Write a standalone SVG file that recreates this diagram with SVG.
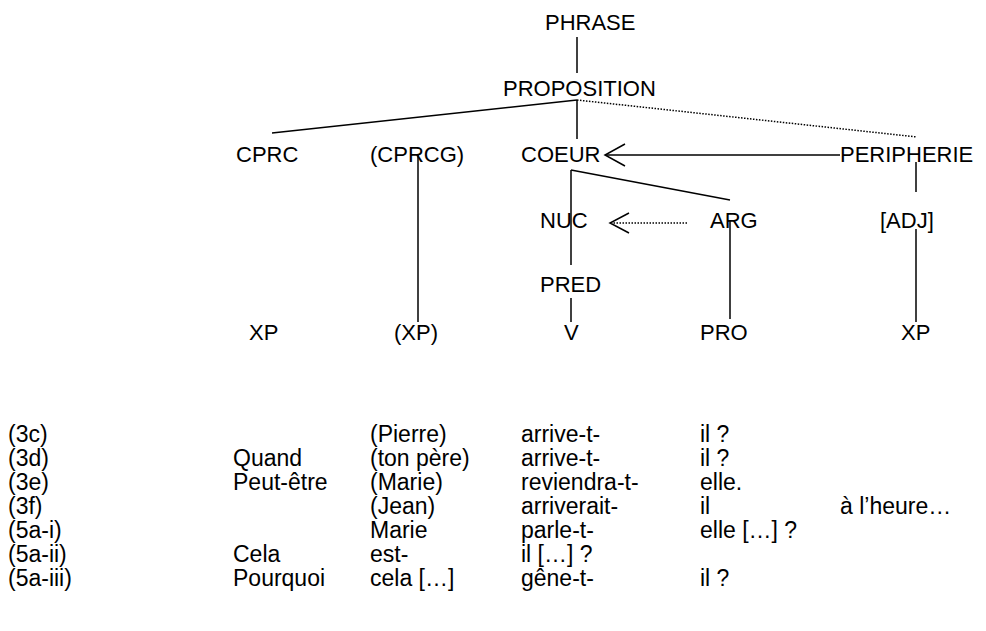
<svg xmlns="http://www.w3.org/2000/svg" width="986" height="631" viewBox="0 0 986 631">
<style>
text{font-family:"Liberation Sans",Arial,sans-serif;font-size:22px;fill:#000}
.ex text{font-size:23px}
.ln{stroke:#000;stroke-width:1.5;fill:none}
.dt{stroke:#000;stroke-width:1.5;fill:none;stroke-dasharray:1.5 1.5}
</style>
<rect width="986" height="631" fill="#fff"/>
<g id="connectors">
<line class="ln" x1="577" y1="37" x2="577" y2="73"/>
<line class="ln" x1="577" y1="100" x2="272" y2="133"/>
<line class="ln" x1="577" y1="100" x2="577" y2="139"/>
<line class="dt" x1="577" y1="100" x2="917" y2="137"/>
<line class="ln" x1="418" y1="155" x2="418" y2="322"/>
<line class="ln" x1="840" y1="155" x2="606" y2="155"/>
<polyline class="ln" points="625,144 605,155 625,166"/>
<line class="ln" x1="571" y1="170" x2="730" y2="200"/>
<line class="ln" x1="571" y1="170" x2="571" y2="265"/>
<line class="ln" x1="571" y1="298" x2="571" y2="322"/>
<line class="ln" x1="730" y1="221" x2="730" y2="319"/>
<line class="ln" x1="916" y1="162" x2="916" y2="192"/>
<line class="ln" x1="916" y1="229" x2="916" y2="322"/>
<line class="dt" x1="687" y1="223" x2="612" y2="223"/>
<polyline class="ln" points="629,213 610,223 629,233"/>
</g>
<g id="phrase"><text x="545" y="30">PHRASE</text></g>
<g id="proposition"><text x="503" y="96">PROPOSITION</text></g>
<g id="cprc"><text x="236" y="162">CPRC</text></g>
<g id="cprcg"><text x="370" y="162">(CPRCG)</text></g>
<g id="coeur"><text x="521" y="162">COEUR</text></g>
<g id="peripherie"><text x="840" y="162">PERIPHERIE</text></g>
<g id="nuc"><text x="540" y="228">NUC</text></g>
<g id="arg"><text x="710" y="228">ARG</text></g>
<g id="adj"><text x="880" y="228">[ADJ]</text></g>
<g id="pred"><text x="540" y="292">PRED</text></g>
<g id="xp1"><text x="249" y="340">XP</text></g>
<g id="xp2"><text x="394" y="340">(XP)</text></g>
<g id="v"><text x="564" y="340">V</text></g>
<g id="pro"><text x="700" y="340">PRO</text></g>
<g id="xp3"><text x="901" y="340">XP</text></g>
<g id="examples" class="ex">
<text x="8" y="442">(3c)</text><text x="370" y="442">(Pierre)</text><text x="521" y="442">arrive-t-</text><text x="700" y="442">il ?</text>
<text x="8" y="466">(3d)</text><text x="233" y="466">Quand</text><text x="370" y="466">(ton père)</text><text x="521" y="466">arrive-t-</text><text x="700" y="466">il ?</text>
<text x="8" y="490">(3e)</text><text x="233" y="490">Peut-être</text><text x="370" y="490">(Marie)</text><text x="521" y="490">reviendra-t-</text><text x="700" y="490">elle.</text>
<text x="8" y="514">(3f)</text><text x="370" y="514">(Jean)</text><text x="521" y="514">arriverait-</text><text x="700" y="514">il</text><text x="840" y="514">à l’heure…</text>
<text x="8" y="538">(5a-i)</text><text x="370" y="538">Marie</text><text x="521" y="538">parle-t-</text><text x="700" y="538">elle […] ?</text>
<text x="8" y="562">(5a-ii)</text><text x="233" y="562">Cela</text><text x="370" y="562">est-</text><text x="521" y="562">il […] ?</text>
<text x="8" y="586">(5a-iii)</text><text x="233" y="586">Pourquoi</text><text x="370" y="586">cela […]</text><text x="521" y="586">gêne-t-</text><text x="700" y="586">il ?</text>
</g>
</svg>
